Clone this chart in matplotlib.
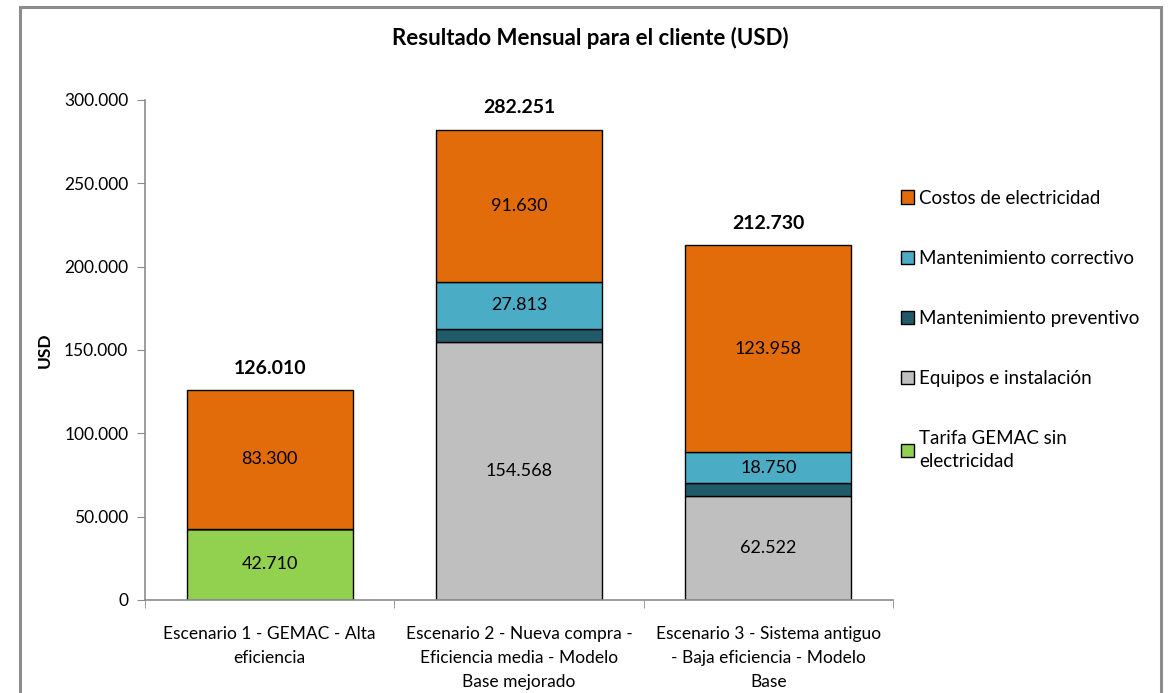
import matplotlib.pyplot as plt
from matplotlib.patches import Rectangle, Patch
import numpy as np

plt.rcParams['font.family'] = ['Lato', 'DejaVu Sans']

escenarios = [
    "Escenario 1 - GEMAC - Alta\neficiencia",
    "Escenario 2 - Nueva compra -\nEficiencia media - Modelo\nBase mejorado",
    "Escenario 3 - Sistema antiguo\n- Baja eficiencia - Modelo\nBase",
]
tarifa_gemac = [42710, 0, 0]
equipos = [0, 154568, 62522]
mant_preventivo = [0, 8240, 7500]
mant_correctivo = [0, 27813, 18750]
electricidad = [83300, 91630, 123958]

series = [
    ("Tarifa GEMAC sin\nelectricidad", tarifa_gemac, "#92D050", True),
    ("Equipos e instalación", equipos, "#BFBFBF", True),
    ("Mantenimiento preventivo", mant_preventivo, "#215A69", False),
    ("Mantenimiento correctivo", mant_correctivo, "#4BACC6", True),
    ("Costos de electricidad", electricidad, "#E36C0A", True),
]


def fmt(v):
    return f"{v:,.0f}".replace(",", ".")


fig = plt.figure(figsize=(11.69, 6.93), dpi=100)
ax = fig.add_axes([145 / 1169, 1 - 600 / 693, (893 - 145) / 1169, 500 / 693])

# outer chart frame
fig.patches.append(Rectangle((20 / 1169, -0.1), 1141 / 1169, 1.1 - 7 / 693,
                             transform=fig.transFigure, fill=False,
                             edgecolor="#8C8C8C", linewidth=2.2))

x = np.arange(len(escenarios))
bottom = np.zeros(len(escenarios))
handles = {}
for name, vals, color, show in series:
    vals = np.array(vals, dtype=float)
    ax.bar(x, vals, width=0.667, bottom=bottom, color=color,
           edgecolor="black", linewidth=1.0)
    handles[name] = Patch(facecolor=color, edgecolor="black", linewidth=1.0)
    if show:
        for xi, b, v in zip(x, bottom, vals):
            if v > 0:
                ax.text(xi, b + v / 2, fmt(v), ha="center", va="center",
                        fontsize=13, color="black")
    bottom += vals

for xi, tot in zip(x, bottom):
    ax.text(xi, tot + 8000, fmt(tot), ha="center", va="bottom",
            fontsize=14, fontweight="bold")

ax.set_xlim(-0.5, 2.5)
ax.set_ylim(0, 300000)
ax.set_yticks(np.arange(0, 300001, 50000))
ax.set_yticklabels([fmt(v) for v in np.arange(0, 300001, 50000)], fontsize=12.5)
ax.set_xticks(x)
ax.set_xticklabels(escenarios, fontsize=12.5, linespacing=1.6)
ax.tick_params(axis="x", length=0, pad=19)
ax.set_xticks([-0.5, 0.5, 1.5, 2.5], minor=True)
ax.tick_params(axis="x", which="minor", length=6, color="#8C8C8C", direction="out")
ax.tick_params(axis="y", length=6, color="#8C8C8C", pad=6)
for s in ["top", "right"]:
    ax.spines[s].set_visible(False)
for s in ["left", "bottom"]:
    ax.spines[s].set_color("#8C8C8C")
    ax.spines[s].set_linewidth(1.2)
ax.set_ylabel("USD", fontsize=12.5, fontweight="bold", labelpad=8)

fig.text(590 / 1169, 1 - 38 / 693, "Resultado Mensual para el cliente (USD)",
         ha="center", va="center", fontsize=16, fontweight="bold")

order = ["Costos de electricidad", "Mantenimiento correctivo",
         "Mantenimiento preventivo", "Equipos e instalación",
         "Tarifa GEMAC sin\nelectricidad"]
leg = fig.legend([handles[n] for n in order], order, loc="upper left",
                 bbox_to_anchor=(893 / 1169, 1 - 182 / 693), frameon=False,
                 fontsize=13.5, handlelength=0.7, handleheight=0.7,
                 handletextpad=0.3, labelspacing=2.3, borderaxespad=0)
for t in leg.get_texts():
    t.set_linespacing(1.45)

fig.savefig("out.png", dpi=100)
